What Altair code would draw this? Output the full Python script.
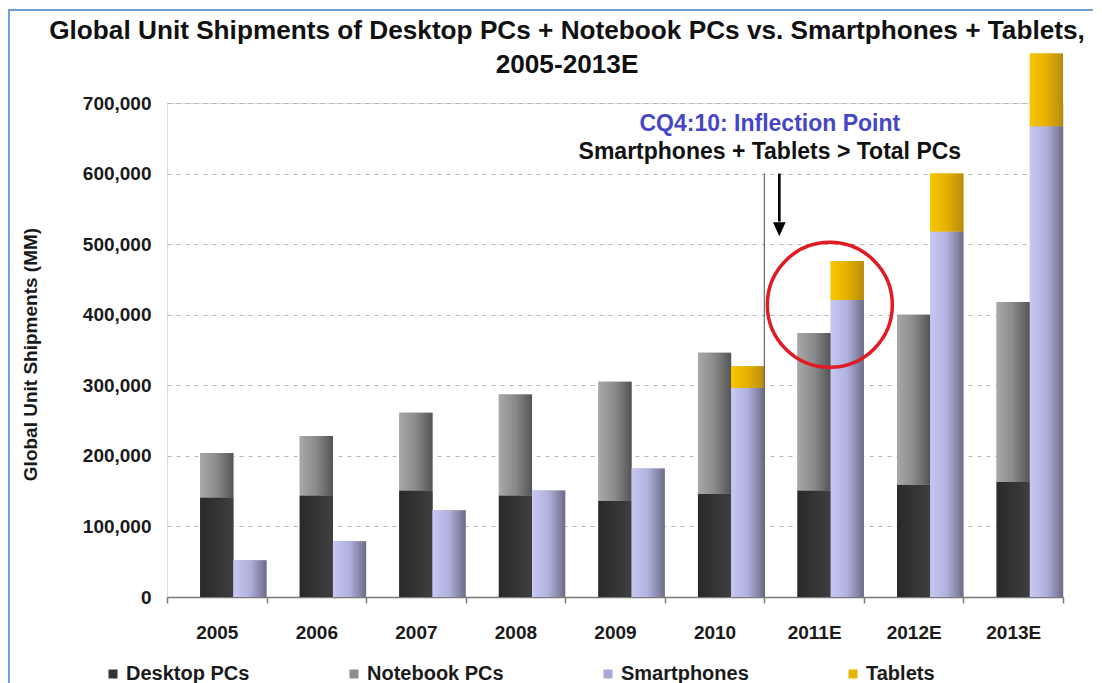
import altair as alt
import pandas as pd

# ---------------- data ----------------
years = ["2005", "2006", "2007", "2008", "2009", "2010", "2011E", "2012E", "2013E"]
desktop_pcs = [141000, 144000, 151000, 144000, 136000, 146000, 151000, 159000, 163000]
notebook_pcs = [63000, 84000, 110000, 143000, 169000, 200000, 223000, 241000, 255000]
smartphones = [52000, 79000, 123000, 151000, 182000, 296000, 421000, 518000, 667000]
tablets = [0, 0, 0, 0, 0, 31000, 55000, 82000, 103000]

series_names = ["Desktop PCs", "Notebook PCs", "Smartphones", "Tablets"]
legend_colors = ["#333333", "#8e8e8e", "#a9a9d9", "#e6b400"]
y_ticks = [0, 100000, 200000, 300000, 400000, 500000, 600000, 700000]

title_lines = [
    "Global Unit Shipments of Desktop PCs + Notebook PCs vs. Smartphones + Tablets,",
    "2005-2013E",
]
y_title = "Global Unit Shipments (MM)"
note_lines = ["CQ4:10: Inflection Point", "Smartphones + Tablets > Total PCs"]
note_levels = [660000, 621000]
note_colors = ["#4646c6", "#111111"]
inflection_year = "2011E"
line_top = 600000
arrow_top, arrow_shaft_end, arrow_head = 600000, 532000, 521000
circle_level = 414000

FONT = "Liberation Sans"
W, H = 896, 494

# ---------------- tables built from the arrays ----------------
rows = []
for i, yr in enumerate(years):
    d, n, s, t = desktop_pcs[i], notebook_pcs[i], smartphones[i], tablets[i]
    rows.append(dict(year=yr, series="Desktop PCs", grp="PC", lo=0, hi=d))
    rows.append(dict(year=yr, series="Notebook PCs", grp="PC", lo=d, hi=d + n))
    rows.append(dict(year=yr, series="Smartphones", grp="Mobile", lo=0, hi=s))
    if t > 0:
        rows.append(dict(year=yr, series="Tablets", grp="Mobile", lo=s, hi=s + t))
df = pd.DataFrame(rows)

notes = pd.DataFrame({"year": [inflection_year] * 2, "text": note_lines,
                      "lvl": note_levels, "clr": note_colors})
vline = pd.DataFrame({"year": [inflection_year], "top": [line_top], "bottom": [0]})
arrow = pd.DataFrame({"year": [inflection_year], "top": [arrow_top], "end": [arrow_shaft_end],
                      "head": [arrow_head]})
circ = pd.DataFrame({"year": [inflection_year], "lvl": [circle_level]})
one = pd.DataFrame({"a": [0]})

x_axis = alt.Axis(
    title=None, labelAngle=0, labelFont=FONT, labelFontWeight="bold", labelFontSize=19,
    labelColor="#1a1a1a", labelPadding=20, tickBand="extent", tickSize=6,
    tickColor="#7a7a7a", domainColor="#7a7a7a", domainWidth=1.5, tickWidth=1.5, grid=False,
)
y_axis = alt.Axis(
    values=y_ticks, format=",d", title=y_title, grid=True, gridDash=[4, 5],
    gridColor="#b4b4b4", gridWidth=1, domain=False, ticks=False, labelPadding=16,
    labelFont=FONT, labelFontSize=19, labelFontWeight="bold", labelColor="#1a1a1a",
    titleFont=FONT, titleFontSize=19, titleFontWeight="bold", titleColor="#1a1a1a",
    titleAngle=-90, titleBaseline="middle", titleX=-137, titleY=H / 2 + 4,
)

X = alt.X("year:N", sort=years, title=None,
          scale=alt.Scale(domain=years, paddingInner=0, paddingOuter=0), axis=x_axis)
XO = alt.XOffset("grp:N", scale=alt.Scale(domain=["gap", "PC", "Mobile"],
                                          paddingInner=0, paddingOuter=0))
Xedge = alt.X("year:N", sort=years, bandPosition=0, title=None)


def grad(stops):
    return alt.Gradient(gradient="linear", x1=0, y1=0, x2=1, y2=0,
                        stops=[alt.GradientStop(offset=o, color=c) for o, c in stops])


gradients = {
    "Desktop PCs": grad([(0, "#292929"), (0.6, "#363636"), (1, "#3f3f3f")]),
    "Notebook PCs": grad([(0, "#a8a8a8"), (0.5, "#8a8a8a"), (1, "#545454")]),
    "Smartphones": grad([(0, "#c8c8f5"), (0.5, "#b0b0dc"), (1, "#6c6c86")]),
    "Tablets": grad([(0, "#f7c600"), (0.5, "#e6b000"), (1, "#b68b10")]),
}

# base bars carry the legend (solid colours, hidden beneath the gradient bars)
base = alt.Chart(df).mark_bar().encode(
    x=X, xOffset=XO,
    y=alt.Y("lo:Q", title=y_title, scale=alt.Scale(domain=[0, 700000], nice=False), axis=y_axis),
    y2="hi:Q",
    color=alt.Color("series:N", scale=alt.Scale(domain=series_names, range=legend_colors),
                    legend=alt.Legend(
                        orient="none", legendX=-64, legendY=561, direction="horizontal",
                        columns=4, columnPadding=94, gridAlign="each", title=None,
                        symbolType="square", symbolSize=81, symbolStrokeWidth=0,
                        symbolOpacity=1, labelFont=FONT, labelFontSize=20,
                        labelFontWeight="bold", labelColor="#1a1a1a", labelOffset=3,
                        padding=0, offset=0)),
)

layers = [base]
for name in series_names:
    layers.append(
        alt.Chart(df).transform_filter(alt.datum.series == name)
        .mark_bar(color=gradients[name])
        .encode(x=alt.X("year:N", sort=years, title=None), xOffset=XO,
                y=alt.Y("lo:Q", title=y_title), y2="hi:Q")
    )

vrule = alt.Chart(vline).mark_rule(color="#666666", strokeWidth=1.2).encode(
    x=Xedge, y=alt.Y("top:Q", title=y_title), y2="bottom:Q")
shaft = alt.Chart(arrow).mark_rule(color="#000000", strokeWidth=2.6, xOffset=15).encode(
    x=Xedge, y=alt.Y("top:Q", title=y_title), y2="end:Q")
head = alt.Chart(arrow).mark_point(shape="M -0.9 -1 L 0.9 -1 L 0 1 Z", filled=True, size=196,
                                   color="#000000", opacity=1, xOffset=15).encode(
    x=Xedge, y=alt.Y("head:Q", title=y_title))
ring = alt.Chart(circ).mark_point(shape="circle", filled=False, size=15625, stroke="#e01b24",
                                  strokeWidth=3.5, opacity=1, xOffset=65.5).encode(
    x=Xedge, y=alt.Y("lvl:Q", title=y_title))
note_text = alt.Chart(notes).mark_text(font=FONT, fontSize=23, fontWeight="bold",
                                       align="center", baseline="alphabetic", dx=5.5).encode(
    x=Xedge, y=alt.Y("lvl:Q", title=y_title), text="text:N",
    color=alt.Color("clr:N", scale=None))

# chart title drawn as a two-line text block above the plot
title_text = alt.Chart(one).mark_text(
    font=FONT, fontSize=26.2, fontWeight="bold", color="#111111", align="center",
    baseline="alphabetic", lineHeight=34,
).encode(x=alt.value(400), y=alt.value(-64), text=alt.value(title_lines))

frame_left = alt.Chart(one).mark_rule(color="#6c9fdc", strokeWidth=2).encode(
    x=alt.value(-158), y=alt.value(-93), y2=alt.value(H + 120))
frame_top = alt.Chart(one).mark_rule(color="#6c9fdc", strokeWidth=2).encode(
    x=alt.value(-159), x2=alt.value(W + 120), y=alt.value(-93))

chart = alt.layer(*layers, vrule, shaft, head, ring, note_text, title_text,
                  frame_left, frame_top).properties(
    width=W, height=H,
    autosize=alt.AutoSizeParams(type="none"),
    padding={"left": 159, "top": 95, "right": 30, "bottom": 86},
).configure_view(stroke=None).configure(background="white")

chart.save("out.html", embed_options={"renderer": "svg", "actions": False})
